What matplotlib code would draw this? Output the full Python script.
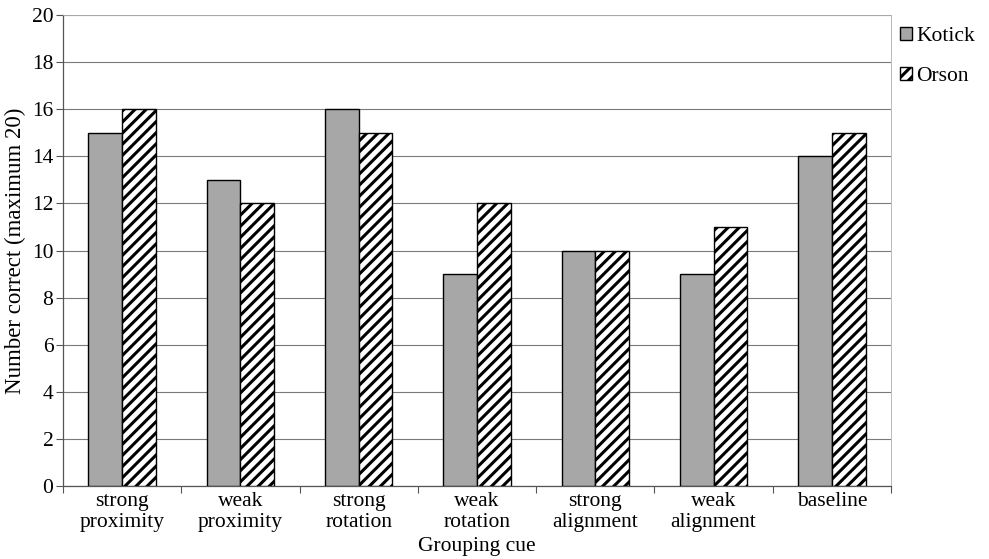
import numpy as np
import matplotlib.pyplot as plt

cues = ["strong\nproximity", "weak\nproximity", "strong\nrotation", "weak\nrotation",
        "strong\nalignment", "weak\nalignment", "baseline"]
kotick = [15, 13, 16, 9, 10, 9, 14]
orson = [16, 12, 15, 12, 10, 11, 15]

plt.rcParams["font.family"] = ["Liberation Serif", "DejaVu Serif"]
plt.rcParams["font.size"] = 15.5
plt.rcParams["hatch.linewidth"] = 2.2

fig = plt.figure(figsize=(9.89, 5.59), dpi=100)
ax = fig.add_axes([63 / 989, 1 - 486 / 559, (891 - 63) / 989, (486 - 15) / 559])

x = np.arange(len(cues))
w = 0.285
ax.bar(x - w / 2, kotick, w, color="#a7a7a7", edgecolor="black", linewidth=1.0,
       label="Kotick", zorder=3)
ax.bar(x + w / 2, orson, w, color="white", edgecolor="black", linewidth=1.0,
       hatch="///", label="Orson", zorder=3)

ax.set_xlim(-0.5, len(cues) - 0.5)
ax.set_ylim(0, 20)
ax.set_yticks(range(0, 21, 2))
ax.yaxis.grid(True, color="#7a7a7a", linewidth=0.8, zorder=0)

# category labels in the middle, tick marks on the boundaries
ax.set_xticks(x)
ax.set_xticklabels(cues, linespacing=1.2)
ax.tick_params(axis="x", length=0, pad=4)
ax.set_xticks(np.arange(-0.5, len(cues)), minor=True)
ax.tick_params(axis="x", which="minor", length=5, color="#555555", width=0.8)
ax.tick_params(axis="y", length=5, color="#555555", width=0.8, pad=2)

for side in ["top", "right"]:
    ax.spines[side].set_color("#b0b0b0")
    ax.spines[side].set_linewidth(0.6)
for side in ["left", "bottom"]:
    ax.spines[side].set_color("#555555")
    ax.spines[side].set_linewidth(0.9)

ax.set_xlabel("Grouping cue", labelpad=3)
ax.set_ylabel("Number correct (maximum 20)", labelpad=4, fontsize=16.5)

fig.legend(loc="upper left", bbox_to_anchor=(900 / 989, 1 - 27 / 559), frameon=False,
           fontsize=15.5, handlelength=0.55, handleheight=0.55, handletextpad=0.2,
           labelspacing=0.95, borderpad=0, borderaxespad=0)

fig.savefig("out.png", dpi=100)
